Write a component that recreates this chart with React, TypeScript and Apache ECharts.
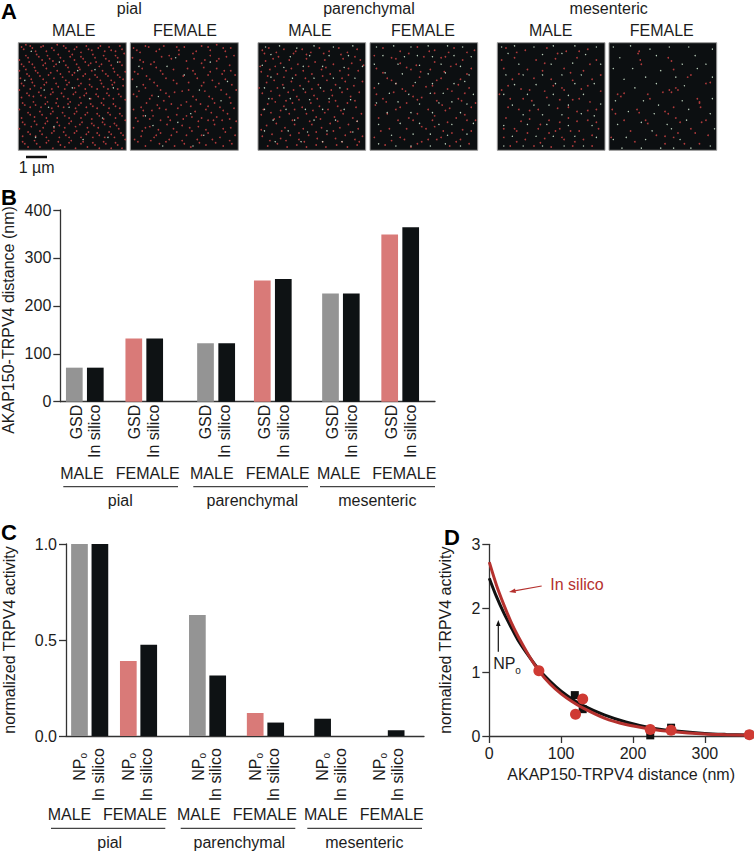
import React, { useEffect, useRef } from "react";
import * as echarts from "echarts";

// ---------- Data ----------
const distGSD = [71, 132, 122, 253, 226, 349];
const distInSilico = [71, 132, 122, 256, 226, 364];
const npo = [1.0, 0.39, 0.63, 0.12, 0.09, null];
const activityInSilico = [1.0, 0.475, 0.315, 0.07, null, 0.03];
const sexes = ["MALE", "FEMALE", "MALE", "FEMALE", "MALE", "FEMALE"];
const vessels = ["pial", "parenchymal", "mesenteric"];

// Panel D: values
const curveX = [0, 10, 20, 30, 40, 55, 69, 85, 100, 115, 130, 160, 190, 224, 253, 300, 330, 362];
const curveNPo = [2.47, 2.18, 1.93, 1.71, 1.5, 1.25, 1.04, 0.85, 0.7, 0.58, 0.48, 0.33, 0.22, 0.13, 0.085, 0.04, 0.025, 0.015];
const curveSilico = [2.72, 2.36, 2.06, 1.79, 1.56, 1.26, 1.02, 0.81, 0.66, 0.54, 0.44, 0.28, 0.18, 0.11, 0.07, 0.03, 0.02, 0.012];
const pointsNPo = [[119, 0.64], [130, 0.42], [224, 0.01], [253, 0.13], [362, 0.02]];
const pointsSilico = [[69, 1.02], [120, 0.34], [130, 0.58], [224, 0.1], [253, 0.09], [362, 0.02]];

// Panel A: localisation spots (x, y, x, y, ... in % of the panel)
const pialMaleRed = [
3,4,5,6,11,3,13,5,21,4,23,3,31,5,33,7,42,3,44,5,52,6,54,4,63,3,65,6,74,5,76,3,84,4,86,7,94,3,96,6,
7,12,9,14,17,11,19,13,27,12,29,15,37,11,39,14,48,13,50,11,58,13,60,15,69,11,71,14,79,12,81,15,90,12,92,14,
3,20,5,22,13,20,15,23,23,21,25,19,33,22,35,20,44,21,46,23,54,20,56,23,65,21,67,19,75,22,77,20,86,21,88,24,96,21,
8,29,10,31,18,28,20,31,28,30,30,28,39,29,41,32,50,30,52,28,60,31,62,29,71,30,73,32,81,29,83,31,92,30,94,32,
3,38,5,40,13,37,15,40,24,39,26,37,35,38,37,41,45,39,47,37,56,40,58,38,66,39,68,41,77,38,79,41,87,39,89,37,97,40,
8,47,10,49,19,46,21,49,30,48,32,46,40,47,42,50,51,48,53,46,61,49,63,47,72,48,74,50,82,47,84,49,93,48,95,50,
4,56,6,58,14,55,16,58,25,57,27,55,35,56,37,59,46,57,48,55,56,58,58,56,67,57,69,59,77,56,79,58,88,57,90,59,
9,65,11,67,20,64,22,67,30,66,32,64,41,65,43,68,52,66,54,64,62,67,64,65,73,66,75,68,83,65,85,67,94,66,96,68,
4,74,6,76,15,73,17,76,25,75,27,73,36,74,38,77,47,75,49,73,57,76,59,74,68,75,70,77,78,74,80,76,89,75,91,77,
9,83,11,85,20,82,22,85,31,84,33,82,42,83,44,86,52,84,54,82,63,85,65,83,73,84,75,86,84,83,86,85,95,84,97,86,
4,92,6,94,15,91,17,94,26,93,28,91,37,92,39,95,47,93,49,91,58,94,60,92,69,93,71,95,79,92,81,94,90,93,92,95,
];
const pialMaleRedExtra = [
7,2,16,8,26,8,36,2,47,8,58,9,68,7,80,8,90,8,98,10,1,16,10,18,22,16,32,17,42,17,52,16,62,18,72,18,84,17,94,18,
1,26,7,25,16,26,26,24,36,26,47,27,57,25,68,26,78,26,89,27,99,27,2,33,12,34,23,34,33,33,44,35,55,34,66,34,76,35,86,35,97,34,
1,44,11,43,21,42,31,43,43,43,52,42,62,43,73,43,83,43,92,43,3,51,14,50,25,51,36,52,46,52,57,51,67,52,79,52,88,52,99,53,
1,62,11,60,21,60,31,61,42,60,53,61,63,60,73,61,84,61,94,61,3,70,15,69,26,70,36,70,47,70,58,70,68,71,79,71,90,70,99,72,
1,80,12,78,23,79,33,79,43,79,53,78,64,79,74,79,85,78,93,80,4,87,16,87,26,88,38,88,47,88,58,88,69,88,80,88,89,88,99,90,
9,97,20,97,32,98,43,97,53,98,64,97,75,98,86,98,96,98,
];
const pialMalePale = [12,8,38,18,55,26,24,44,66,52,47,60,78,70,33,78,88,42,16,88,60,90,92,18,6,35,28,60,71,25,50,42,83,88];
const pialFemaleRed = [
3,5,6,7,14,3,17,4,24,8,27,6,43,4,45,7,58,10,61,8,72,4,74,7,86,5,88,8,96,12,
9,16,12,18,19,20,22,18,36,12,38,15,52,17,66,19,69,16,80,17,82,15,92,21,
4,27,7,29,15,31,28,26,30,29,58,26,60,29,72,30,74,27,85,29,87,26,97,30,
12,39,14,42,22,37,25,40,40,35,43,38,54,37,66,40,68,37,79,41,82,38,94,39,
3,48,6,50,18,52,20,49,33,47,36,50,48,45,58,50,61,53,73,50,76,52,89,48,92,51,
10,60,12,63,25,58,27,61,44,61,47,58,56,59,70,62,72,59,83,60,86,63,96,61,
5,70,7,73,18,71,21,68,35,69,37,72,49,71,52,68,63,73,66,70,77,72,80,69,92,71,
11,82,14,79,26,81,28,84,40,80,43,83,55,79,57,82,70,81,72,84,86,80,88,83,
4,90,7,92,19,91,22,88,33,92,36,90,48,91,50,94,62,90,64,93,76,90,79,93,92,91,94,94,
];
const pialFemaleRedExtra = [
9,9,31,3,50,4,66,3,80,2,93,5,2,14,29,13,45,11,59,15,74,12,89,13,11,24,24,23,40,25,53,24,68,23,80,24,93,26,
2,34,18,34,33,33,49,31,62,33,76,35,88,34,8,45,28,44,41,46,54,44,69,45,84,44,98,44,15,56,31,54,38,57,52,55,65,57,78,56,93,56,
3,62,20,63,33,62,60,64,75,65,90,66,12,68,28,72,43,67,57,69,72,72,85,72,98,73,3,79,18,78,34,76,48,77,63,78,78,76,93,79,
10,87,24,86,38,86,52,86,66,86,83,88,97,86,14,96,27,94,41,96,56,97,70,95,86,96,
];
const pialFemalePale = [8,22,34,22,50,30,26,50,64,44,84,54,14,68,44,74,68,86,90,36,30,96,58,96,42,14,74,18,6,41,56,66,21,77];
const parMaleRed = [
4,7,10,5,17,9,24,6,33,10,41,6,49,9,57,5,66,8,75,5,83,9,92,6,
7,17,14,15,21,19,29,16,37,20,45,15,53,18,62,16,70,20,79,15,87,19,95,16,
3,27,11,25,18,29,26,26,35,30,42,26,50,29,59,25,67,29,76,26,84,30,93,26,
8,37,15,35,23,39,31,36,39,40,47,36,56,39,64,35,72,39,81,36,89,40,97,36,
4,47,12,45,20,49,28,46,36,50,44,46,52,49,61,45,69,49,78,46,86,50,94,46,
9,57,16,55,24,59,32,56,41,60,49,56,57,59,66,55,74,59,83,56,91,60,
3,67,12,65,20,69,29,66,37,70,45,66,54,69,62,65,71,69,79,66,88,70,96,66,
8,77,17,75,25,79,34,76,42,80,50,76,59,79,67,75,76,79,84,76,93,80,
4,87,13,85,21,89,30,86,38,90,47,86,55,89,64,85,72,89,81,86,90,90,97,87,
9,96,18,94,27,97,36,95,45,97,54,95,63,97,73,95,83,97,92,95,
];
const parMaleRedExtra = [
6,10,19,13,35,8,45,11,61,10,77,11,90,13,2,22,16,22,31,24,47,22,63,23,84,24,98,21,9,31,24,32,44,33,60,31,78,33,
1,42,18,42,33,44,50,43,68,44,83,43,13,52,26,54,38,53,55,52,72,54,90,54,5,62,21,63,34,62,51,63,65,62,77,63,
15,71,32,72,48,73,58,71,74,73,92,73,3,81,22,82,38,84,54,83,70,82,86,83,11,91,26,91,43,92,60,92,78,92,94,92,
];
const parMalePale = [
7,4,20,3,36,5,52,3,70,4,88,3,12,11,30,13,48,12,66,12,84,12,4,21,24,23,42,22,60,22,80,23,97,22,
12,32,32,33,52,33,70,33,90,33,6,42,24,42,42,43,58,42,76,42,10,52,30,52,48,53,66,52,86,53,
6,62,26,62,44,62,60,62,80,62,14,72,34,72,52,72,72,72,92,73,6,82,28,82,46,83,64,82,88,83,16,92,40,92,60,92,78,92,
];
const parFemaleRed = [
12,5,28,8,44,4,60,7,78,5,90,9,20,14,24,15,50,13,66,14,70,13,86,16,6,24,34,23,38,25,56,25,75,22,94,24,
16,33,20,35,46,32,62,35,66,33,84,34,4,42,30,43,33,45,52,41,72,43,76,45,92,42,
12,52,15,55,40,50,44,53,48,51,62,54,82,52,85,54,24,62,28,60,54,62,70,63,74,61,94,60,
8,70,36,70,40,72,58,72,80,70,90,72,18,80,48,78,52,80,68,82,86,81,4,88,28,88,32,90,
62,90,66,88,80,92,84,90,44,94,48,92,14,95,74,96,92,94,
];
const parFemaleRedExtra = [
4,12,36,10,55,8,73,9,97,7,28,19,43,21,60,18,80,20,12,28,47,27,69,27,90,29,24,38,40,40,58,40,82,39,6,48,22,46,60,47,88,47,
5,58,34,56,67,58,98,56,16,66,44,66,60,68,88,67,26,72,72,74,98,72,10,82,34,80,60,78,76,84,94,82,20,91,54,90,38,97,
];
const parFemalePale = [
6,4,22,3,38,4,54,3,72,3,86,4,12,12,32,13,44,12,58,13,78,12,94,13,4,20,26,20,46,21,66,20,84,22,
14,28,30,29,54,29,70,28,92,30,8,38,24,38,42,37,58,38,78,38,88,36,18,47,36,48,56,47,68,47,96,48,
6,56,26,55,46,57,64,56,76,55,90,57,16,65,38,65,58,65,84,65,8,76,28,75,46,75,64,76,76,76,96,75,
20,86,40,85,56,85,72,86,90,85,8,94,24,96,38,96,56,96,70,94,84,96,
];
const mesMaleRed = [
8,5,26,7,46,5,64,8,84,6,16,14,36,16,54,15,74,14,92,16,6,24,28,25,42,26,62,24,80,26,
14,34,34,33,50,34,70,35,88,34,4,44,22,43,44,45,60,42,62,44,78,43,96,45,
12,52,32,54,46,51,70,53,86,55,2,48,20,62,38,62,56,61,74,64,92,62,8,70,30,71,48,72,66,70,84,72,
16,80,18,82,38,80,54,82,58,80,76,82,94,80,6,88,26,90,44,89,60,88,62,90,80,90,12,96,34,96,50,97,70,96,88,96,
];
const mesMaleRedExtra = [
18,9,56,10,76,8,4,16,44,19,86,20,20,29,68,28,96,30,10,40,30,44,52,40,84,40,24,52,58,53,76,52,10,60,30,63,66,60,84,63,
22,73,40,76,58,74,74,73,92,74,6,80,28,84,48,84,68,82,88,86,18,92,40,93,72,92,
];
const mesMalePale = [
4,4,16,3,34,4,52,3,72,3,92,4,10,10,42,11,60,10,82,11,20,20,50,20,70,19,96,20,8,30,24,30,42,30,60,30,78,30,
16,39,36,39,54,38,72,38,90,38,6,48,28,48,52,48,66,49,80,48,14,58,34,58,48,58,66,58,96,57,
24,67,42,67,60,67,78,66,90,68,6,77,28,76,46,76,66,77,88,77,14,87,36,87,52,87,72,87,92,88,6,96,24,96,42,96,62,96,80,96,
];
const mesFemaleRed = [
28,8,29,16,30,20,27,10,55,14,58,17,60,25,73,32,76,30,90,38,94,37,8,48,11,50,14,47,36,48,38,52,50,46,56,44,58,46,
62,42,64,44,82,52,84,55,3,62,6,66,26,62,28,65,52,64,55,66,60,60,84,56,85,60,
14,72,34,72,36,75,62,70,66,74,86,74,90,72,20,82,44,86,64,84,76,80,80,84,92,86,
2,88,24,92,52,94,70,94,84,94,60,88,52,87,
];
const mesFemalePale = [
4,4,20,3,38,6,56,4,74,4,96,6,10,14,44,12,80,12,90,20,4,24,22,24,48,26,68,20,82,24,14,34,34,32,62,32,
24,42,44,38,70,40,96,32,6,54,32,54,46,58,68,54,96,52,18,64,42,66,74,62,94,66,8,76,30,74,54,76,72,72,
40,82,58,80,98,80,4,90,16,88,34,90,66,90,94,96,12,98,30,98,48,98,60,98,76,98,
];

const panelsA = [
  { red: [...pialMaleRed, ...pialMaleRedExtra], pale: pialMalePale, left: 18.3, right: 126.3 },
  { red: [...pialFemaleRed, ...pialFemaleRedExtra], pale: pialFemalePale, left: 130.3, right: 238.3 },
  { red: [...parMaleRed, ...parMaleRedExtra], pale: parMalePale, left: 258, right: 365.7 },
  { red: [...parFemaleRed, ...parFemaleRedExtra], pale: parFemalePale, left: 370, right: 477.7 },
  { red: [...mesMaleRed, ...mesMaleRedExtra], pale: mesMalePale, left: 497.3, right: 605 },
  { red: mesFemaleRed, pale: mesFemalePale, left: 609, right: 716.7 },
];

// ---------- Layout ----------
const FONT = "Liberation Sans";
const INK = "#1c1c1c";
const AXIS = "#333333";
const GRAY = "#949494";
const PINK = "#d97a78";
const BLACK = "#0e1214";
const RED = "#cf3a33";
const DARKRED = "#b5312e";
const TXT = 16;

const barSlotsB = [74.3, 95.3, 133.8, 154.7, 205.5, 226.7, 262.3, 283.3, 330.5, 351.3, 389.7, 410.7];
const labelSlotsB = [76, 94.3, 134, 153.3, 205.3, 224.3, 264, 283.3, 332, 351, 391, 410];
const barSlotsC = [71.3, 92.2, 121.3, 142.2, 192, 212.8, 251.2, 272.2, 320.2, 338.3, 378.3, 395.5];
const labelSlotsC = [71.7, 90.7, 121.7, 140, 192.7, 210.7, 251.7, 270, 320, 338.3, 378.3, 396.7];
const sexCentersB = [82, 147.7, 211.8, 277.7, 338.7, 404.3];
const sexCentersC = [69.5, 135, 198.8, 264.8, 325.8, 391.7];
const bracketsB = [[63.3, 178], [193.3, 308], [320, 435]];
const bracketsC = [[51, 165.3], [180.7, 295.3], [307.3, 422]];
const vesselCentersB = [120.3, 252.3, 377.3];
const vesselCentersC = [109.7, 239.3, 364.3];
const titleCentersA = [129.3, 369, 608.7];
const sexCentersA = [73.7, 185, 310, 423, 550.7, 661.7];

const pairs = (flat: number[]) => {
  const out: number[][] = [];
  for (let i = 0; i + 1 < flat.length; i += 2) out.push([flat[i], flat[i + 1]]);
  return out;
};

const txt = (text: string, x: number, y: number, extra: any = {}, rotation = 0) => ({
  type: "text",
  x,
  y,
  rotation,
  silent: true,
  style: {
    text,
    fontFamily: FONT,
    fontSize: TXT,
    fill: INK,
    align: "center",
    verticalAlign: "middle",
    ...extra,
  },
});
const line = (x1: number, y1: number, x2: number, y2: number, stroke = "#444444", lineWidth = 1.2) => ({
  type: "line",
  silent: true,
  shape: { x1, y1, x2, y2 },
  style: { stroke, lineWidth },
});

const axisLine = { show: true, onZero: false, lineStyle: { color: AXIS, width: 1.3 } };
const axisTick = { show: true, length: 7, lineStyle: { color: AXIS, width: 1.3 } };
const tickLabel = { fontFamily: FONT, fontSize: 16, color: INK };

function barItems(first: (number | null)[], second: (number | null)[], slots: number[], firstBlackAt: number[] = []) {
  const items: any[] = [];
  first.forEach((v, i) => {
    const base = i % 2 === 0 ? GRAY : PINK;
    if (v !== null) items.push({ value: [slots[i * 2], v], itemStyle: { color: firstBlackAt.includes(i) ? BLACK : base } });
    const s = second[i];
    if (s !== null) items.push({ value: [slots[i * 2 + 1], s], itemStyle: { color: BLACK } });
  });
  return items;
}

function buildOption() {
  const grids: any[] = [];
  const xAxes: any[] = [];
  const yAxes: any[] = [];
  const series: any[] = [];

  panelsA.forEach((p, i) => {
    grids.push({
      left: p.left,
      top: 42.7,
      width: p.right - p.left,
      height: 107.6,
      show: true,
      backgroundColor: "#0c0f11",
      borderColor: "#9a9a9a",
      borderWidth: 1,
    });
    xAxes.push({ type: "value", gridIndex: i, min: 0, max: 100, show: false });
    yAxes.push({ type: "value", gridIndex: i, min: 0, max: 100, inverse: true, show: false });
    series.push({
      type: "scatter", xAxisIndex: i, yAxisIndex: i, symbolSize: 1.7, silent: true,
      itemStyle: { color: "#b23b3c", opacity: 1 }, data: pairs(p.red),
    });
    series.push({
      type: "scatter", xAxisIndex: i, yAxisIndex: i, symbolSize: 1.4, silent: true,
      itemStyle: { color: "#bcd0bc", opacity: 1 }, data: pairs(p.pale),
    });
  });

  // Panel B
  const bLeft = 60.3, bRight = 435;
  grids.push({ left: bLeft, top: 210, width: bRight - bLeft, height: 191.7 });
  const bLabels = labelSlotsB.map((_, i) => (i % 2 === 0 ? "GSD" : "In silico"));
  xAxes.push({
    type: "value", gridIndex: 6, min: bLeft, max: bRight, splitLine: { show: false },
    axisLine, axisTick: { show: false },
    axisLabel: {
      ...tickLabel, fontSize: TXT, rotate: 90, margin: 3, hideOverlap: false, customValues: labelSlotsB,
      formatter: (v: number) => bLabels[labelSlotsB.indexOf(v)] ?? "",
    },
  });
  yAxes.push({
    type: "value", gridIndex: 6, min: 0, max: 400, interval: 100, splitLine: { show: false },
    axisLine, axisTick, axisLabel: { ...tickLabel, margin: 9 },
  });
  series.push({
    type: "bar", name: "AKAP150-TRPV4 distance", xAxisIndex: 6, yAxisIndex: 6, barWidth: 16.7, silent: true,
    data: barItems(distGSD, distInSilico, barSlotsB),
  });

  // Panel C
  const cLeft = 57.5, cRight = 424;
  grids.push({ left: cLeft, top: 544, width: cRight - cLeft, height: 192 });
  xAxes.push({
    type: "value", gridIndex: 7, min: cLeft, max: cRight, splitLine: { show: false },
    axisLine, axisTick: { show: false },
    axisLabel: {
      ...tickLabel, fontSize: TXT, rotate: 90, margin: 12, hideOverlap: false, customValues: labelSlotsC,
      formatter: (v: number) => {
        const i = labelSlotsC.indexOf(v);
        return i % 2 === 0 ? "{n|NP}{s|o}" : "In silico";
      },
      rich: {
        n: { fontFamily: FONT, fontSize: TXT, color: INK },
        s: { fontFamily: FONT, fontSize: 10, color: INK, verticalAlign: "bottom", padding: [8, 5, 0, 0] },
      },
    },
  });
  yAxes.push({
    type: "value", gridIndex: 7, min: 0, max: 1, interval: 0.5, splitLine: { show: false },
    axisLine, axisTick,
    axisLabel: { ...tickLabel, margin: 9, formatter: (v: number) => v.toFixed(1) },
    name: "normalized TRPV4 activity", nameLocation: "middle", nameGap: 49, nameRotate: 90,
    nameTextStyle: { fontFamily: FONT, fontSize: TXT, color: INK },
  });
  series.push({
    type: "bar", name: "normalized TRPV4 activity", xAxisIndex: 7, yAxisIndex: 7, barWidth: 16.7, silent: true,
    data: barItems(npo, activityInSilico, barSlotsC, [4]),
  });

  // Panel D
  grids.push({ left: 489.3, top: 544.3, width: 263.7, height: 191.7 });
  xAxes.push({
    type: "value", gridIndex: 8, min: 0, max: 367, splitLine: { show: false },
    axisLine, axisTick: { ...axisTick, customValues: [0, 100, 200, 300] },
    axisLabel: { ...tickLabel, margin: 9, customValues: [0, 100, 200, 300] },
    name: "AKAP150-TRPV4 distance (nm)", nameLocation: "middle", nameGap: 30,
    nameTextStyle: { fontFamily: FONT, fontSize: TXT, color: INK },
  });
  yAxes.push({
    type: "value", gridIndex: 8, min: 0, max: 3, interval: 1, splitLine: { show: false },
    axisLine, axisTick, axisLabel: { ...tickLabel, margin: 9 },
    name: "normalized TRPV4 activity", nameLocation: "middle", nameGap: 36, nameRotate: 90,
    nameTextStyle: { fontFamily: FONT, fontSize: TXT, color: INK },
  });
  const zipCurve = (ys: number[]) => curveX.map((x, i) => [x, ys[i]]);
  series.push({
    type: "scatter", xAxisIndex: 8, yAxisIndex: 8, symbol: "rect", symbolSize: 8, silent: true, clip: false,
    itemStyle: { color: "#111111", opacity: 1 }, data: pointsNPo, z: 3,
  });
  series.push({
    type: "line", xAxisIndex: 8, yAxisIndex: 8, smooth: 0.3, showSymbol: false, silent: true, clip: false,
    lineStyle: { color: "#111111", width: 3 }, data: zipCurve(curveNPo), z: 4,
  });
  series.push({
    type: "line", xAxisIndex: 8, yAxisIndex: 8, smooth: 0.3, showSymbol: false, silent: true, clip: false,
    lineStyle: { color: DARKRED, width: 3 }, data: zipCurve(curveSilico), z: 5,
  });
  series.push({
    type: "scatter", xAxisIndex: 8, yAxisIndex: 8, symbol: "circle", symbolSize: 11, silent: true, clip: false,
    itemStyle: { color: RED, opacity: 1 }, data: pointsSilico, z: 6,
  });

  const letter = { fontWeight: "bold", fontSize: 22, fill: "#000000", align: "left" };
  const graphic: any[] = [
    txt("A", 1, 11, letter),
    txt("B", 1, 197, letter),
    txt("C", 1, 532, letter),
    txt("D", 444, 537, letter),
    txt("1 µm", 36.7, 167.7),
    line(26, 157, 47, 157, "#111111", 2.5),
    txt("AKAP150-TRPV4 distance (nm)", 8, 320, {}, Math.PI / 2),
    // annotations of panel D
    txt("In silico", 577, 584, { fill: DARKRED }),
    line(541.7, 586, 513, 591.2, DARKRED, 1.2),
    { type: "polygon", silent: true, shape: { points: [[509, 592], [515, 588.6], [516, 593]] }, style: { fill: DARKRED } },
    line(498.3, 651.7, 498.3, 624, "#111111", 1.2),
    { type: "polygon", silent: true, shape: { points: [[498.3, 620], [496, 626], [500.6, 626]] }, style: { fill: "#111111" } },
    txt("NP", 493.3, 663, { align: "left" }),
    txt("o", 518, 670, { fontSize: 10 }),
  ];
  vessels.forEach((v, i) => {
    graphic.push(txt(v, titleCentersA[i], 8.5));
    graphic.push(txt(v, vesselCentersB[i], 500.7));
    graphic.push(txt(v, vesselCentersC[i], 842.7));
    graphic.push(line(bracketsB[i][0], 486.7, bracketsB[i][1], 486.7));
    graphic.push(line(bracketsC[i][0], 828.3, bracketsC[i][1], 828.3));
  });
  sexes.forEach((s, i) => {
    graphic.push(txt(s, sexCentersA[i], 30.7));
    graphic.push(txt(s, sexCentersB[i], 473));
    graphic.push(txt(s, sexCentersC[i], 814.7));
  });

  return {
    animation: false,
    backgroundColor: "#ffffff",
    grid: grids,
    xAxis: xAxes,
    yAxis: yAxes,
    series,
    graphic: { elements: graphic },
  };
}

export default function App() {
  const ref = useRef<HTMLDivElement>(null);
  useEffect(() => {
    if (!ref.current) return;
    const chart = echarts.init(ref.current, undefined, { renderer: "svg" });
    chart.setOption(buildOption() as any);
    return () => chart.dispose();
  }, []);
  return <div ref={ref} style={{ position: "absolute", left: 0, top: 0, width: 754, height: 851 }} />;
}
